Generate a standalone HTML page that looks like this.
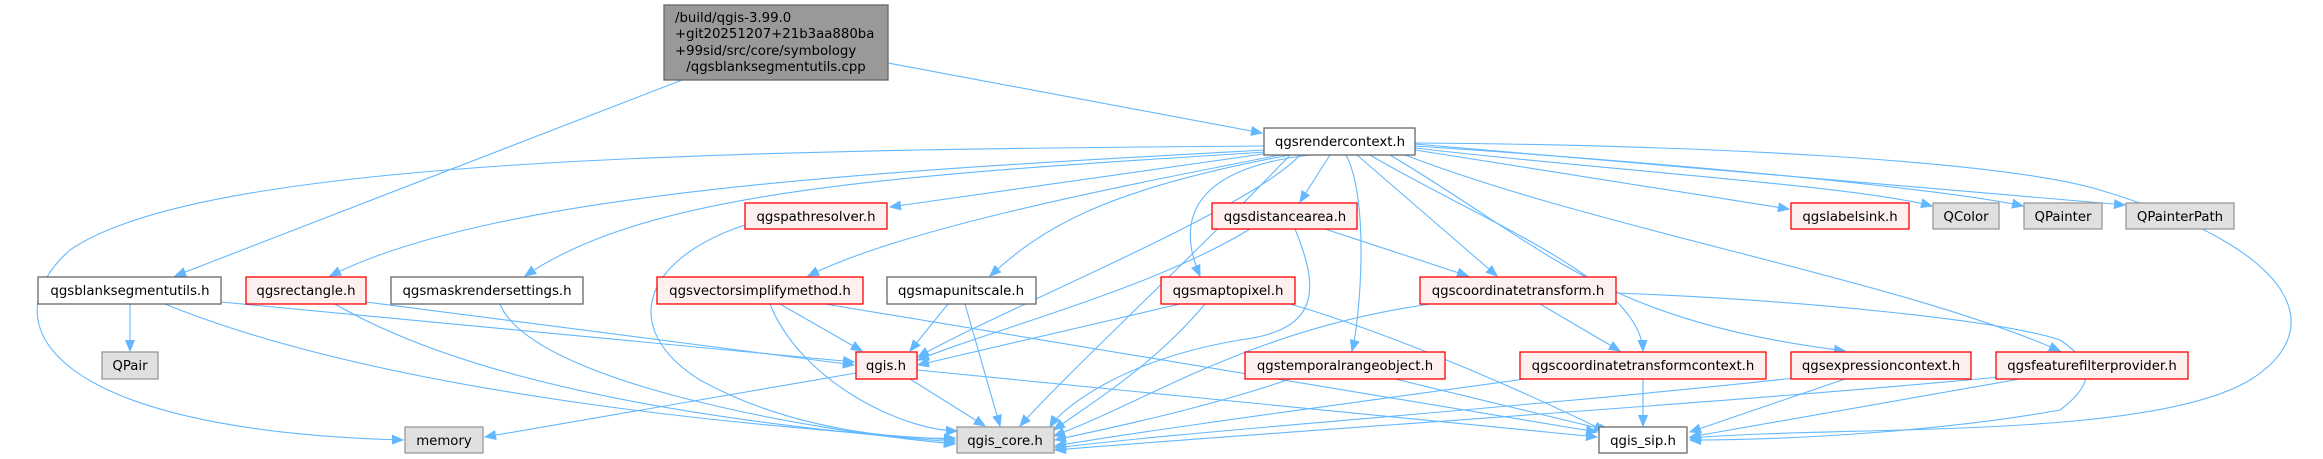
<!DOCTYPE html>
<html><head><meta charset="utf-8"><style>
html,body{margin:0;padding:0;background:#fff;}
svg{display:block;}
text{font-family:"DejaVu Sans","Liberation Sans",sans-serif;font-size:13.3px;fill:#000;}
.e{fill:none;stroke:#63b8ff;stroke-width:1.1;marker-end:url(#a);}
.w{fill:#fff;stroke:#666;stroke-width:1.3;}
.r{fill:#fff0f0;stroke:#ff0000;stroke-width:1.3;}
.g{fill:#e0e0e0;stroke:#999;stroke-width:1.3;}
</style></head><body>
<svg width="2323" height="459" viewBox="0 0 2323 459" xmlns="http://www.w3.org/2000/svg">
<defs><marker id="a" markerWidth="12" markerHeight="10" refX="11" refY="5" orient="auto" markerUnits="userSpaceOnUse"><path d="M0,0.5 L11,5 L0,9.5 Z" fill="#63b8ff" stroke="#63b8ff"/></marker></defs>
<!-- edges -->
<path class="e" d="M682,80 L175,276"/>
<path class="e" d="M888,63 L1262,133"/>
<path class="e" d="M1264,146 C700,150 200,160 70,250 C-10,320 40,430 403,440"/>
<path class="e" d="M1265,150 C900,170 500,190 330,276"/>
<path class="e" d="M1266,152 C900,175 650,190 525,276"/>
<path class="e" d="M1270,153 L890,207"/>
<path class="e" d="M1280,155 C1100,190 900,230 808,276"/>
<path class="e" d="M1290,155 C1100,190 1040,230 990,276"/>
<path class="e" d="M1300,155 C1250,210 1000,310 918,357"/>
<path class="e" d="M1290,155 C1200,250 1060,380 1020,426"/>
<path class="e" d="M1330,155 L1300,202"/>
<path class="e" d="M1310,155 C1180,170 1180,230 1200,276"/>
<path class="e" d="M1346,155 C1370,200 1360,320 1352,351"/>
<path class="e" d="M1357,155 L1497,276"/>
<path class="e" d="M1370,155 C1480,220 1640,280 1643,351"/>
<path class="e" d="M1390,155 C1550,250 1600,320 1845,351"/>
<path class="e" d="M1405,155 C1600,230 1900,280 2060,351"/>
<path class="e" d="M1415,150 L1789,209"/>
<path class="e" d="M1415,148 C1600,170 1850,185 1932,206"/>
<path class="e" d="M1415,146 C1700,165 1950,190 2023,206"/>
<path class="e" d="M1415,144 L2125,205"/>
<path class="e" d="M1415,143 C1700,145 2000,160 2100,190 C2300,250 2330,330 2250,380 C2150,440 1850,425 1690,438"/>
<path class="e" d="M130,304 L130,351"/>
<path class="e" d="M221,302 L854,362"/>
<path class="e" d="M165,304 C400,400 800,430 955,440"/>
<path class="e" d="M366,302 L854,365"/>
<path class="e" d="M335,304 C500,400 800,430 955,442"/>
<path class="e" d="M500,304 C530,380 800,430 955,444"/>
<path class="e" d="M745,225 C640,260 620,330 700,380 C790,430 900,440 955,438"/>
<path class="e" d="M780,304 L862,351"/>
<path class="e" d="M770,304 C800,380 900,430 957,431"/>
<path class="e" d="M825,304 L1597,432"/>
<path class="e" d="M948,304 L910,351"/>
<path class="e" d="M965,304 L1000,426"/>
<path class="e" d="M856,373 L485,437"/>
<path class="e" d="M910,379 L985,426"/>
<path class="e" d="M917,370 L1597,437"/>
<path class="e" d="M1250,229 C1150,290 990,330 918,360"/>
<path class="e" d="M1295,229 C1320,290 1320,330 1240,340 C1120,360 1060,410 1050,427"/>
<path class="e" d="M1325,229 L1468,276"/>
<path class="e" d="M1180,304 L918,365"/>
<path class="e" d="M1205,304 C1150,370 1080,410 1054,430"/>
<path class="e" d="M1290,304 C1380,330 1500,380 1605,431"/>
<path class="e" d="M1430,304 C1250,330 1150,400 1054,436"/>
<path class="e" d="M1540,304 L1620,351"/>
<path class="e" d="M1616,293 C1800,300 2000,320 2060,340 C2090,360 2100,380 2060,410 C1950,430 1800,440 1690,440"/>
<path class="e" d="M1290,379 C1200,410 1100,430 1055,440"/>
<path class="e" d="M1395,379 L1610,431"/>
<path class="e" d="M1525,379 C1300,410 1150,430 1055,446"/>
<path class="e" d="M1643,379 L1643,426"/>
<path class="e" d="M1795,378 C1500,410 1200,430 1055,448"/>
<path class="e" d="M1845,379 L1690,432"/>
<path class="e" d="M2000,377 C1700,405 1300,430 1055,450"/>
<path class="e" d="M2020,379 L1690,437"/>
<!-- nodes -->
<rect x="664" y="5" width="224" height="75" fill="#999" stroke="#666" stroke-width="1.3"/>
<text x="675" y="22">/build/qgis-3.99.0</text>
<text x="675" y="38">+git20251207+21b3aa880ba</text>
<text x="675" y="55">+99sid/src/core/symbology</text>
<text x="776" y="71" text-anchor="middle">/qgsblanksegmentutils.cpp</text>
<g text-anchor="middle">
<rect class="w" x="1264" y="128" width="151" height="27"/><text x="1340" y="146">qgsrendercontext.h</text>
<rect class="r" x="1212" y="203" width="145" height="26"/><text x="1285" y="221">qgsdistancearea.h</text>
<rect class="r" x="745" y="203" width="142" height="26"/><text x="816" y="221">qgspathresolver.h</text>
<rect class="r" x="1791" y="203" width="118" height="26"/><text x="1850" y="221">qgslabelsink.h</text>
<rect class="g" x="1933" y="203" width="66" height="26"/><text x="1966" y="221">QColor</text>
<rect class="g" x="2024" y="203" width="78" height="26"/><text x="2063" y="221">QPainter</text>
<rect class="g" x="2126" y="203" width="108" height="26"/><text x="2180" y="221">QPainterPath</text>
<rect class="w" x="38" y="277" width="183" height="27"/><text x="130" y="295">qgsblanksegmentutils.h</text>
<rect class="r" x="246" y="277" width="120" height="27"/><text x="306" y="295">qgsrectangle.h</text>
<rect class="w" x="391" y="277" width="192" height="27"/><text x="487" y="295">qgsmaskrendersettings.h</text>
<rect class="r" x="657" y="277" width="206" height="27"/><text x="760" y="295">qgsvectorsimplifymethod.h</text>
<rect class="w" x="887" y="277" width="149" height="27"/><text x="961" y="295">qgsmapunitscale.h</text>
<rect class="r" x="1161" y="277" width="134" height="27"/><text x="1228" y="295">qgsmaptopixel.h</text>
<rect class="r" x="1420" y="277" width="196" height="27"/><text x="1518" y="295">qgscoordinatetransform.h</text>
<rect class="g" x="102" y="352" width="56" height="27"/><text x="130" y="370">QPair</text>
<rect class="r" x="856" y="352" width="61" height="27"/><text x="886" y="370">qgis.h</text>
<rect class="r" x="1245" y="352" width="200" height="27"/><text x="1345" y="370">qgstemporalrangeobject.h</text>
<rect class="r" x="1520" y="352" width="246" height="27"/><text x="1643" y="370">qgscoordinatetransformcontext.h</text>
<rect class="r" x="1791" y="352" width="180" height="27"/><text x="1881" y="370">qgsexpressioncontext.h</text>
<rect class="r" x="1996" y="352" width="192" height="27"/><text x="2092" y="370">qgsfeaturefilterprovider.h</text>
<rect class="g" x="405" y="427" width="78" height="26"/><text x="444" y="445">memory</text>
<rect class="g" x="957" y="427" width="97" height="26"/><text x="1005" y="445">qgis_core.h</text>
<rect class="w" x="1599" y="427" width="88" height="26"/><text x="1643" y="445">qgis_sip.h</text>
</g>
</svg>
</body></html>
